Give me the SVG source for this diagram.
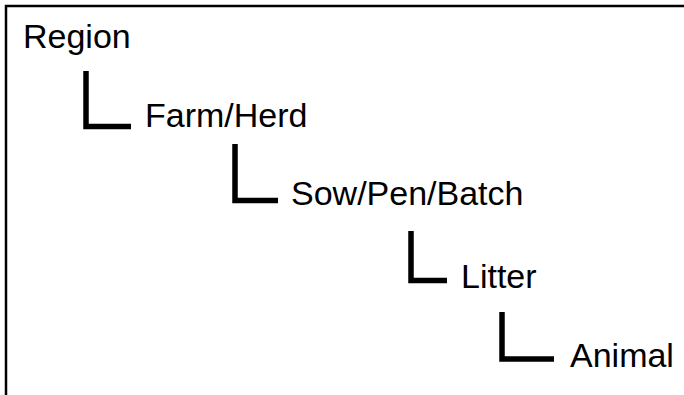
<svg xmlns="http://www.w3.org/2000/svg" width="684" height="395" viewBox="0 0 684 395">
<style>
.t{font-family:"Liberation Sans",Arial,sans-serif;font-size:34px;fill:#000}
.c{fill:none;stroke:#000;stroke-width:5.5;stroke-linejoin:miter;stroke-linecap:butt}
</style>
<rect x="0" y="0" width="684" height="395" fill="#fff"/>
<path d="M6,395 V6 H684" fill="none" stroke="#000" stroke-width="2.5"/>
<g id="connectors">
<path class="c" d="M86,71 V126.5 H131"/>
<path class="c" d="M235,144 V200.5 H278"/>
<path class="c" d="M411,231 V280.5 H447"/>
<path class="c" d="M502,312 V359 H554"/>
</g>
<g id="region"><text class="t" x="23" y="48">Region</text></g>
<g id="farm"><text class="t" x="145" y="127">Farm/Herd</text></g>
<g id="sow"><text class="t" x="291" y="205">Sow/Pen/Batch</text></g>
<g id="litter"><text class="t" x="461" y="288">Litter</text></g>
<g id="animal"><text class="t" x="570" y="367">Animal</text></g>
</svg>
